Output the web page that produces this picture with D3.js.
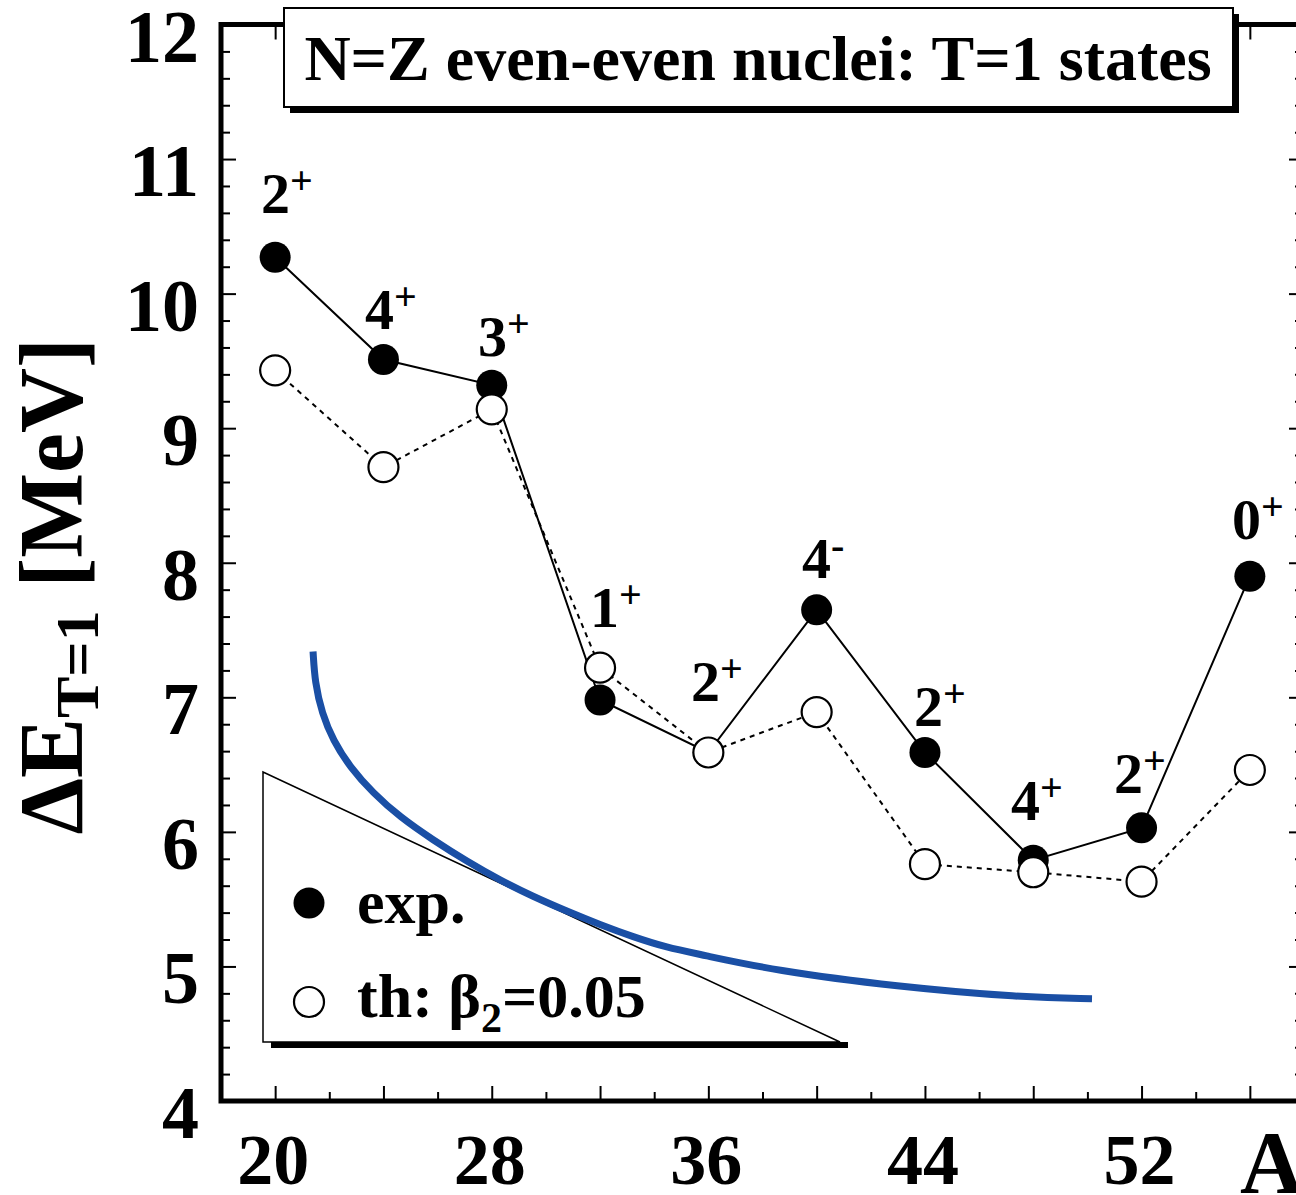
<!DOCTYPE html>
<html>
<head>
<meta charset="utf-8">
<script src="https://cdn.jsdelivr.net/npm/d3@7"></script>
<style>
  body { margin: 0; background: #fff; }
  text { font-family: "Liberation Serif", "Times New Roman", serif; font-weight: bold; fill: #000; }
</style>
</head>
<body>
<div class="chart"></div>
<script>
var svgWidth = 1296;
var svgHeight = 1195;

// data
var massA = [20, 24, 28, 32, 36, 40, 44, 48, 52, 56];
var expE = [10.27, 9.51, 9.32, 6.98, 6.59, 7.65, 6.59, 5.79, 6.03, 7.90];
var thE = [9.43, 8.71, 9.14, 7.22, 6.59, 6.89, 5.76, 5.70, 5.63, 6.46];

// spin / parity labels and where they sit (data units)
var spinLabels = ["2", "4", "3", "1", "2", "4", "2", "4", "2", "0"];
var parityLabels = ["+", "+", "+", "+", "+", "-", "+", "+", "+", "+"];
var labelA = [19.48, 23.32, 27.49, 31.63, 35.36, 39.46, 43.60, 47.18, 50.98, 55.34];
var labelE = [10.60, 9.74, 9.54, 7.52, 6.97, 7.89, 6.79, 6.09, 6.29, 8.18];

// hand drawn blue curve
var curveA = [21.40, 21.47, 21.73, 22.14, 22.77, 23.61, 24.61, 25.83, 27.09, 28.31,
  29.52, 30.78, 32.00, 33.22, 34.47, 35.69, 38.43, 42.97, 47.55, 50.17];
var curveE = [7.34, 7.11, 6.88, 6.68, 6.48, 6.29, 6.11, 5.94, 5.78, 5.64,
  5.52, 5.41, 5.31, 5.22, 5.14, 5.09, 4.97, 4.85, 4.77, 4.76];

// ticks
var xTickLabels = [20, 28, 36, 44, 52];
var xMajorTicks = [20, 24, 28, 32, 36, 40, 44, 48, 52, 56];
var xMinorTicks = [22, 26, 30, 34, 38, 42, 46, 50, 54];
var yTickLabels = [4, 5, 6, 7, 8, 9, 10, 11, 12];

var frame = { left: 221, right: 1304, top: 24.5, bottom: 1101 };

var svg = d3.select(".chart")
  .append("svg")
  .attr("width", svgWidth)
  .attr("height", svgHeight);

var x = d3.scaleLinear().domain([18, 58]).range([frame.left, frame.right]);
var y = d3.scaleLinear().domain([4, 12]).range([frame.bottom, frame.top]);

var yMinorTicks = d3.range(4, 12.001, 0.2).filter(v => Math.abs(v - Math.round(v)) > 0.01);

// tick marks, all pointing inwards
function tickGroup(axis, tx, ty) {
  var g = svg.append("g")
    .attr("transform", `translate(${tx}, ${ty})`)
    .call(axis);
  g.select(".domain").remove();
  g.selectAll("line").attr("stroke", "#000").attr("stroke-width", 2);
  g.selectAll("text").remove();
  return g;
}

tickGroup(d3.axisBottom(x).tickValues(xMajorTicks).tickSize(-15).tickFormat(""), 0, frame.bottom);
tickGroup(d3.axisBottom(x).tickValues(xMinorTicks).tickSize(-9).tickFormat(""), 0, frame.bottom);
tickGroup(d3.axisTop(x).tickValues(xMajorTicks).tickSize(-15).tickFormat(""), 0, frame.top);
tickGroup(d3.axisTop(x).tickValues(xMinorTicks).tickSize(-9).tickFormat(""), 0, frame.top);
tickGroup(d3.axisLeft(y).tickValues(yTickLabels).tickSize(-15).tickFormat(""), frame.left, 0);
tickGroup(d3.axisLeft(y).tickValues(yMinorTicks).tickSize(-9).tickFormat(""), frame.left, 0);
tickGroup(d3.axisRight(y).tickValues(yTickLabels).tickSize(-15).tickFormat(""), frame.right, 0);
tickGroup(d3.axisRight(y).tickValues(yMinorTicks).tickSize(-9).tickFormat(""), frame.right, 0);

// frame
svg.append("rect")
  .attr("x", frame.left)
  .attr("y", frame.top)
  .attr("width", frame.right - frame.left)
  .attr("height", frame.bottom - frame.top)
  .attr("fill", "none")
  .attr("stroke", "#000")
  .attr("stroke-width", 5);

// tick labels
svg.selectAll(".ylab")
  .data(yTickLabels)
  .enter()
  .append("text")
  .attr("x", frame.left - 22)
  .attr("y", d => y(d) + 37)
  .attr("text-anchor", "end")
  .style("font-size", "74px")
  .text(d => d);

svg.selectAll(".xlab")
  .data(xTickLabels)
  .enter()
  .append("text")
  .attr("x", d => x(d) - 2)
  .attr("y", 1184)
  .attr("text-anchor", "middle")
  .style("font-size", "72px")
  .text(d => d);

// axis titles
svg.append("text")
  .attr("x", 1240)
  .attr("y", 1192)
  .style("font-size", "88px")
  .text("A");

var yTitle = svg.append("text")
  .attr("transform", "translate(82, 338) rotate(-90)")
  .attr("text-anchor", "end")
  .style("font-size", "90px");
yTitle.append("tspan").text("ΔE");
yTitle.append("tspan").attr("dy", 16).style("font-size", "62px").text("T=1");
yTitle.append("tspan").attr("dy", -16).text(" [MeV]");

// title box with shadow
svg.append("rect")
  .attr("x", 290).attr("y", 14)
  .attr("width", 949).attr("height", 99)
  .attr("fill", "#000");
svg.append("rect")
  .attr("x", 284).attr("y", 8)
  .attr("width", 949).attr("height", 99)
  .attr("fill", "#fff")
  .attr("stroke", "#000")
  .attr("stroke-width", 2);
svg.append("text")
  .attr("x", 758)
  .attr("y", 80)
  .attr("text-anchor", "middle")
  .style("font-size", "64px")
  .text("N=Z even-even nuclei: T=1 states");

// legend (triangular pave)
svg.append("rect")
  .attr("x", 271).attr("y", 1042)
  .attr("width", 577).attr("height", 6)
  .attr("fill", "#000");
svg.append("polygon")
  .attr("points", "263,772 263,1042 840,1042")
  .attr("fill", "#fff")
  .attr("stroke", "#000")
  .attr("stroke-width", 1.5);

svg.append("circle")
  .attr("cx", 309).attr("cy", 903).attr("r", 15.5)
  .attr("fill", "#000");
svg.append("circle")
  .attr("cx", 309).attr("cy", 1002).attr("r", 15)
  .attr("fill", "#fff").attr("stroke", "#000").attr("stroke-width", 2.2);

svg.append("text")
  .attr("x", 357).attr("y", 923)
  .style("font-size", "62px")
  .text("exp.");
var thLabel = svg.append("text")
  .attr("x", 357).attr("y", 1017)
  .style("font-size", "62px");
thLabel.append("tspan").text("th: β");
thLabel.append("tspan").attr("dy", 15).style("font-size", "42px").text("2");
thLabel.append("tspan").attr("dy", -15).text("=0.05");

// data lines
var expPts = d3.zip(massA, expE);
var thPts = d3.zip(massA, thE);

var line = d3.line()
  .x(d => x(d[0]))
  .y(d => y(d[1]));

svg.append("path")
  .datum(expPts)
  .attr("d", line)
  .attr("fill", "none")
  .attr("stroke", "#000")
  .attr("stroke-width", 2);

svg.append("path")
  .datum(thPts)
  .attr("d", line)
  .attr("fill", "none")
  .attr("stroke", "#000")
  .attr("stroke-width", 2)
  .attr("stroke-dasharray", "5,5");

svg.selectAll(".exp")
  .data(expPts)
  .enter()
  .append("circle")
  .attr("cx", d => x(d[0]))
  .attr("cy", d => y(d[1]))
  .attr("r", 15.5)
  .attr("fill", "#000");

svg.selectAll(".th")
  .data(thPts)
  .enter()
  .append("circle")
  .attr("cx", d => x(d[0]))
  .attr("cy", d => y(d[1]))
  .attr("r", 15)
  .attr("fill", "#fff")
  .attr("stroke", "#000")
  .attr("stroke-width", 2.2);

// spin-parity labels
spinLabels.forEach(function(s, i) {
  var t = svg.append("text")
    .attr("x", x(labelA[i]))
    .attr("y", y(labelE[i]))
    .style("font-size", "58px");
  t.append("tspan").text(s);
  t.append("tspan")
    .attr("dy", -19)
    .style("font-size", "40px")
    .text(parityLabels[i]);
});

// blue curve
svg.append("path")
  .datum(d3.zip(curveA, curveE))
  .attr("d", d3.line().x(d => x(d[0])).y(d => y(d[1])).curve(d3.curveBasis))
  .attr("fill", "none")
  .attr("stroke", "#1a4fa5")
  .attr("stroke-width", 7);
</script>
</body>
</html>
